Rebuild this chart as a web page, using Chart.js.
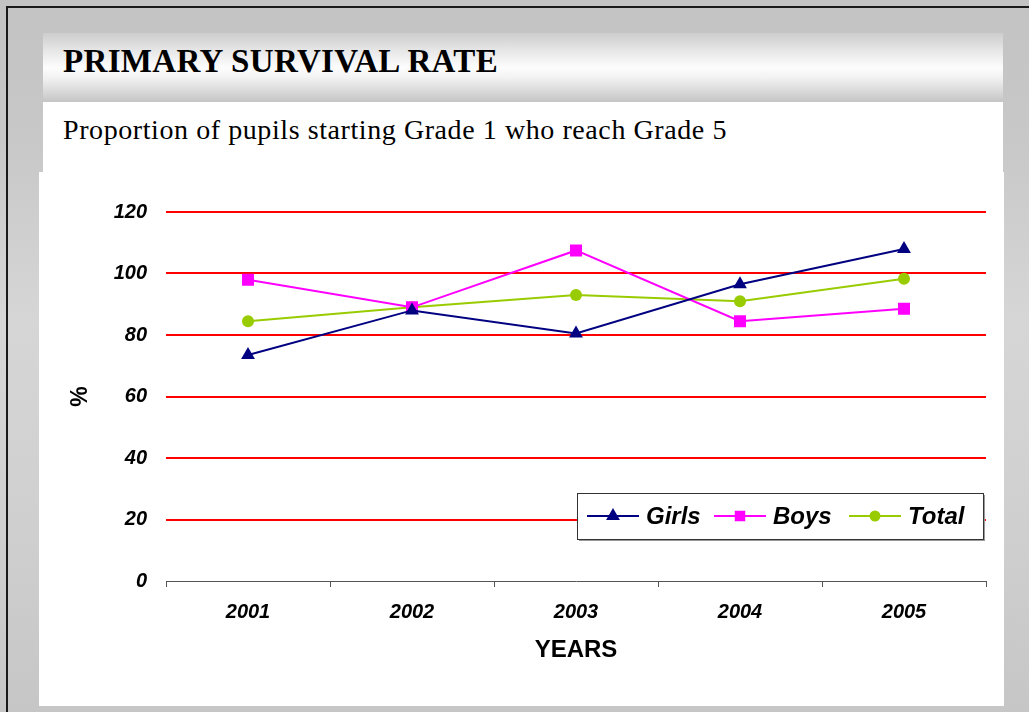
<!DOCTYPE html>
<html>
<head>
<meta charset="utf-8">
<script src="https://cdn.jsdelivr.net/npm/chart.js@4.4.1/dist/chart.umd.min.js"></script>
<style>
  html, body { margin: 0; padding: 0; }
  body {
    width: 1029px; height: 712px; overflow: hidden; position: relative;
    background: linear-gradient(to bottom, #c3c3c3 0%, #c8c8c8 20%, #d6d6d6 45%, #cfcfcf 75%, #c6c6c6 100%);
  }
  #frame { position: absolute; left: 6px; top: 6px; width: 1040px; height: 720px;
    border-left: 2px solid #1a1a1a; border-top: 2px solid #1a1a1a; }
  #band { position: absolute; left: 43px; top: 33px; width: 960px; height: 69px;
    background: linear-gradient(to bottom, #cdcdcd 0%, #e6e6e6 25%, #fdfdfd 50%, #f2f2f2 65%, #d2d2d2 90%, #c4c4c4 100%); }
  #subpanel { position: absolute; left: 43px; top: 102px; width: 960px; height: 70px; background: #fff; }
  #chartpanel { position: absolute; left: 39px; top: 172px; width: 965px; height: 534px; background: #fff; }
  .txt { position: absolute; white-space: nowrap; color: #000;
    font-family: "Book Antiqua", Palatino, "Palatino Linotype", "Liberation Serif", serif; }
  #title { left: 63px; top: 45px; font-size: 33px; line-height: 33px; font-weight: bold; }
  #subtitle { left: 63px; top: 116px; font-size: 28px; line-height: 28px; }
  #chartpanel canvas { position: absolute; left: 0; top: 0; }
</style>
</head>
<body>
<div id="frame"></div>
<div id="band"></div>
<div id="subpanel"></div>
<div class="txt" id="title">PRIMARY SURVIVAL RATE</div>
<div class="txt" id="subtitle">Proportion of pupils starting Grade 1 who reach Grade 5</div>
<div id="chartpanel"><canvas id="myChart" width="965" height="534"></canvas></div>
<script>
// stretch the serif headings to the width they take in the slide
function fitWidth(el, target) {
  el.style.letterSpacing = '0px';
  const w = el.getBoundingClientRect().width;
  const n = el.textContent.length;
  el.style.letterSpacing = ((target - w) / n) + 'px';
}
fitWidth(document.getElementById('title'), 435);
fitWidth(document.getElementById('subtitle'), 664);

const years = ['2001', '2002', '2003', '2004', '2005'];
const girls = [73.5, 88, 80.5, 96.5, 108];
const boys = [98, 89, 107.5, 84.5, 88.5];
const total = [84.5, 89, 93, 91, 98.3];
const yTicks = [0, 20, 40, 60, 80, 100, 120];

const tickFont = { family: 'Arial, "Liberation Sans", sans-serif', size: 20, weight: 'bold', style: 'italic' };

// legend drawn inside the plot, like the Excel one
const boxLegend = {
  id: 'boxLegend',
  afterDraw(chart) {
    const c = chart.ctx;
    const ca = chart.chartArea;
    const left = ca.left + 411, top = ca.top + 281, w = 406, h = 46;
    c.save();
    c.fillStyle = '#9a9a9a';
    c.fillRect(left + 2, top + 2, w, h);
    c.fillStyle = '#fff';
    c.fillRect(left, top, w, h);
    c.strokeStyle = '#333';
    c.lineWidth = 1;
    c.strokeRect(left + 0.5, top + 0.5, w, h);
    const starts = [10, 137, 272];
    const cy = top + 23;
    c.font = 'italic bold 24px Arial, "Liberation Sans", sans-serif';
    c.textBaseline = 'middle';
    chart.data.datasets.forEach((ds, i) => {
      const x0 = left + starts[i];
      c.strokeStyle = ds.borderColor;
      c.lineWidth = 2;
      c.beginPath();
      c.moveTo(x0, cy);
      c.lineTo(x0 + 52, cy);
      c.stroke();
      Chart.helpers.drawPoint(c, {
        pointStyle: ds.pointStyle, radius: ds.legendRadius, borderWidth: 1, rotation: 0
      }, x0 + 26, cy);
      c.fillStyle = ds.borderColor;
      c.fill();
      c.fillStyle = '#000';
      c.fillText(ds.label, x0 + 59, cy + 1);
    });
    c.restore();
  }
};

const ctx = document.getElementById('myChart').getContext('2d');

const data = {
  labels: years,
  datasets: [
    { label: 'Girls', data: girls, borderColor: '#000080', backgroundColor: '#000080',
      pointStyle: 'triangle', pointRadius: 8, legendRadius: 6 },
    { label: 'Boys', data: boys, borderColor: '#ff00ff', backgroundColor: '#ff00ff',
      pointStyle: 'rect', pointRadius: 8.5, legendRadius: 6 },
    { label: 'Total', data: total, borderColor: '#99cc00', backgroundColor: '#99cc00',
      pointStyle: 'circle', pointRadius: 6, legendRadius: 4.5 },
  ],
};

const config = {
  type: 'line',
  data: data,
  plugins: [boxLegend],
  options: {
    responsive: false,
    animation: false,
    layout: { padding: { top: 40, right: 18, left: 0, bottom: 0 } },
    elements: {
      line: { borderWidth: 2, tension: 0 },
      point: { borderWidth: 0, hoverRadius: 8 },
    },
    plugins: {
      legend: { display: false },
      tooltip: { enabled: false },
    },
    scales: {
      x: {
        offset: true,
        afterFit: (s) => { s.height = 125; },
        grid: { offset: true, drawOnChartArea: false, drawTicks: true, tickLength: 6, color: '#555', lineWidth: 1 },
        border: { display: true, color: '#555', width: 1 },
        ticks: { font: tickFont, color: '#000', padding: 13, maxRotation: 0 },
        title: {
          display: true, text: 'YEARS', color: '#000',
          font: { family: 'Arial, "Liberation Sans", sans-serif', size: 24, weight: 'bold' },
          padding: { top: 4, bottom: 41 },
        },
      },
      y: {
        min: 0,
        max: 120,
        afterFit: (s) => { s.width = 127; },
        afterBuildTicks: (s) => { s.ticks = yTicks.map(v => ({ value: v })); },
        grid: {
          drawTicks: false,
          lineWidth: 2,
          color: (c) => (c.tick && c.tick.value === 0 ? 'rgba(0,0,0,0)' : '#ff0000'),
        },
        border: { display: false },
        ticks: { font: tickFont, color: '#000', padding: 19 },
        title: {
          display: true, text: '%', color: '#000',
          font: { family: 'Arial, "Liberation Sans", sans-serif', size: 23, weight: 'bold' },
          padding: { top: 28, bottom: 0 },
        },
      },
    },
  },
};

const myChart = new Chart(ctx, config);
</script>
</body>
</html>
